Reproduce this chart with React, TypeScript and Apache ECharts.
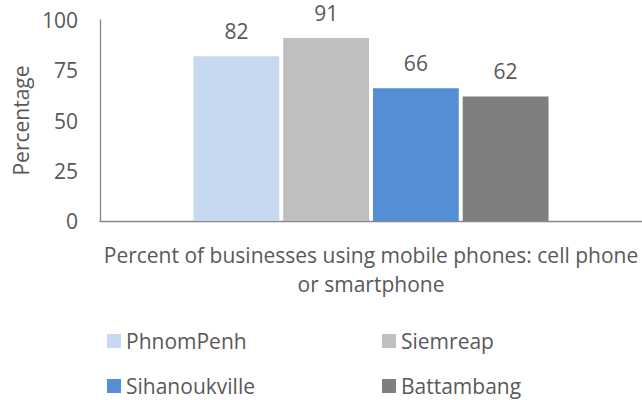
import React, { useEffect, useRef } from "react";
import * as echarts from "echarts";

const categories = ["Percent of businesses using mobile phones: cell phone\nor smartphone"];
const seriesNames = ["PhnomPenh", "Siemreap", "Sihanoukville", "Battambang"];
const seriesValues = [[82], [91], [66], [62]];
const seriesColors = ["#C6D9F0", "#BFBFBF", "#558ED5", "#7F7F7F"];
const yTicks = { min: 0, max: 100, interval: 25 };
const yAxisTitle = "Percentage";

const FONT = "Open Sans";
const TEXT = "#595959";
const FS = 21;

// legend slots: [left, top] for each series (2 columns x 2 rows)
const legendSlots = [
  [107, 330],
  [382, 330],
  [107, 375],
  [382, 375],
];

export default function App() {
  const ref = useRef<HTMLDivElement>(null);
  useEffect(() => {
    if (!ref.current) return;
    const chart = echarts.init(ref.current, null, { renderer: "svg" });
    chart.setOption({
      animation: false,
      textStyle: { fontFamily: FONT, color: TEXT },
      grid: { left: 100, right: 0, top: 20, bottom: 179, outerBoundsMode: "none" },
      legend: seriesNames.map((name, i) => ({
        left: legendSlots[i][0],
        top: legendSlots[i][1],
        itemWidth: 14,
        itemHeight: 14,
        icon: "rect",
        selectedMode: false,
        padding: 0,
        data: [name],
        textStyle: { fontFamily: FONT, fontSize: FS, color: TEXT, lineHeight: 22 },
      })),
      xAxis: {
        type: "category",
        data: categories,
        axisLine: { show: true, lineStyle: { color: "#888888", width: 1.3 } },
        axisTick: { show: false },
        axisLabel: {
          margin: 19,
          fontFamily: FONT,
          fontSize: FS,
          color: TEXT,
          lineHeight: 29,
          align: "center",
        },
      },
      yAxis: {
        type: "value",
        min: yTicks.min,
        max: yTicks.max,
        interval: yTicks.interval,
        name: yAxisTitle,
        nameLocation: "middle",
        nameGap: 59,
        nameTextStyle: { fontFamily: FONT, fontSize: FS, color: TEXT },
        axisLine: { show: true, lineStyle: { color: "#888888", width: 1.3 } },
        axisTick: { show: false },
        splitLine: { show: false },
        axisLabel: { margin: 22, fontFamily: FONT, fontSize: FS, color: TEXT },
      },
      series: seriesNames.map((name, i) => ({
        name,
        type: "bar",
        data: seriesValues[i],
        itemStyle: { color: seriesColors[i] },
        barGap: "4.6%",
        barCategoryGap: "34.5%",
        label: {
          show: true,
          position: "top",
          distance: 15,
          fontFamily: FONT,
          fontSize: FS,
          color: TEXT,
        },
      })),
    });
    return () => chart.dispose();
  }, []);
  return (
    <div
      ref={ref}
      style={{ position: "fixed", left: 0, top: 0, width: 642, height: 400, background: "#fff" }}
    />
  );
}
